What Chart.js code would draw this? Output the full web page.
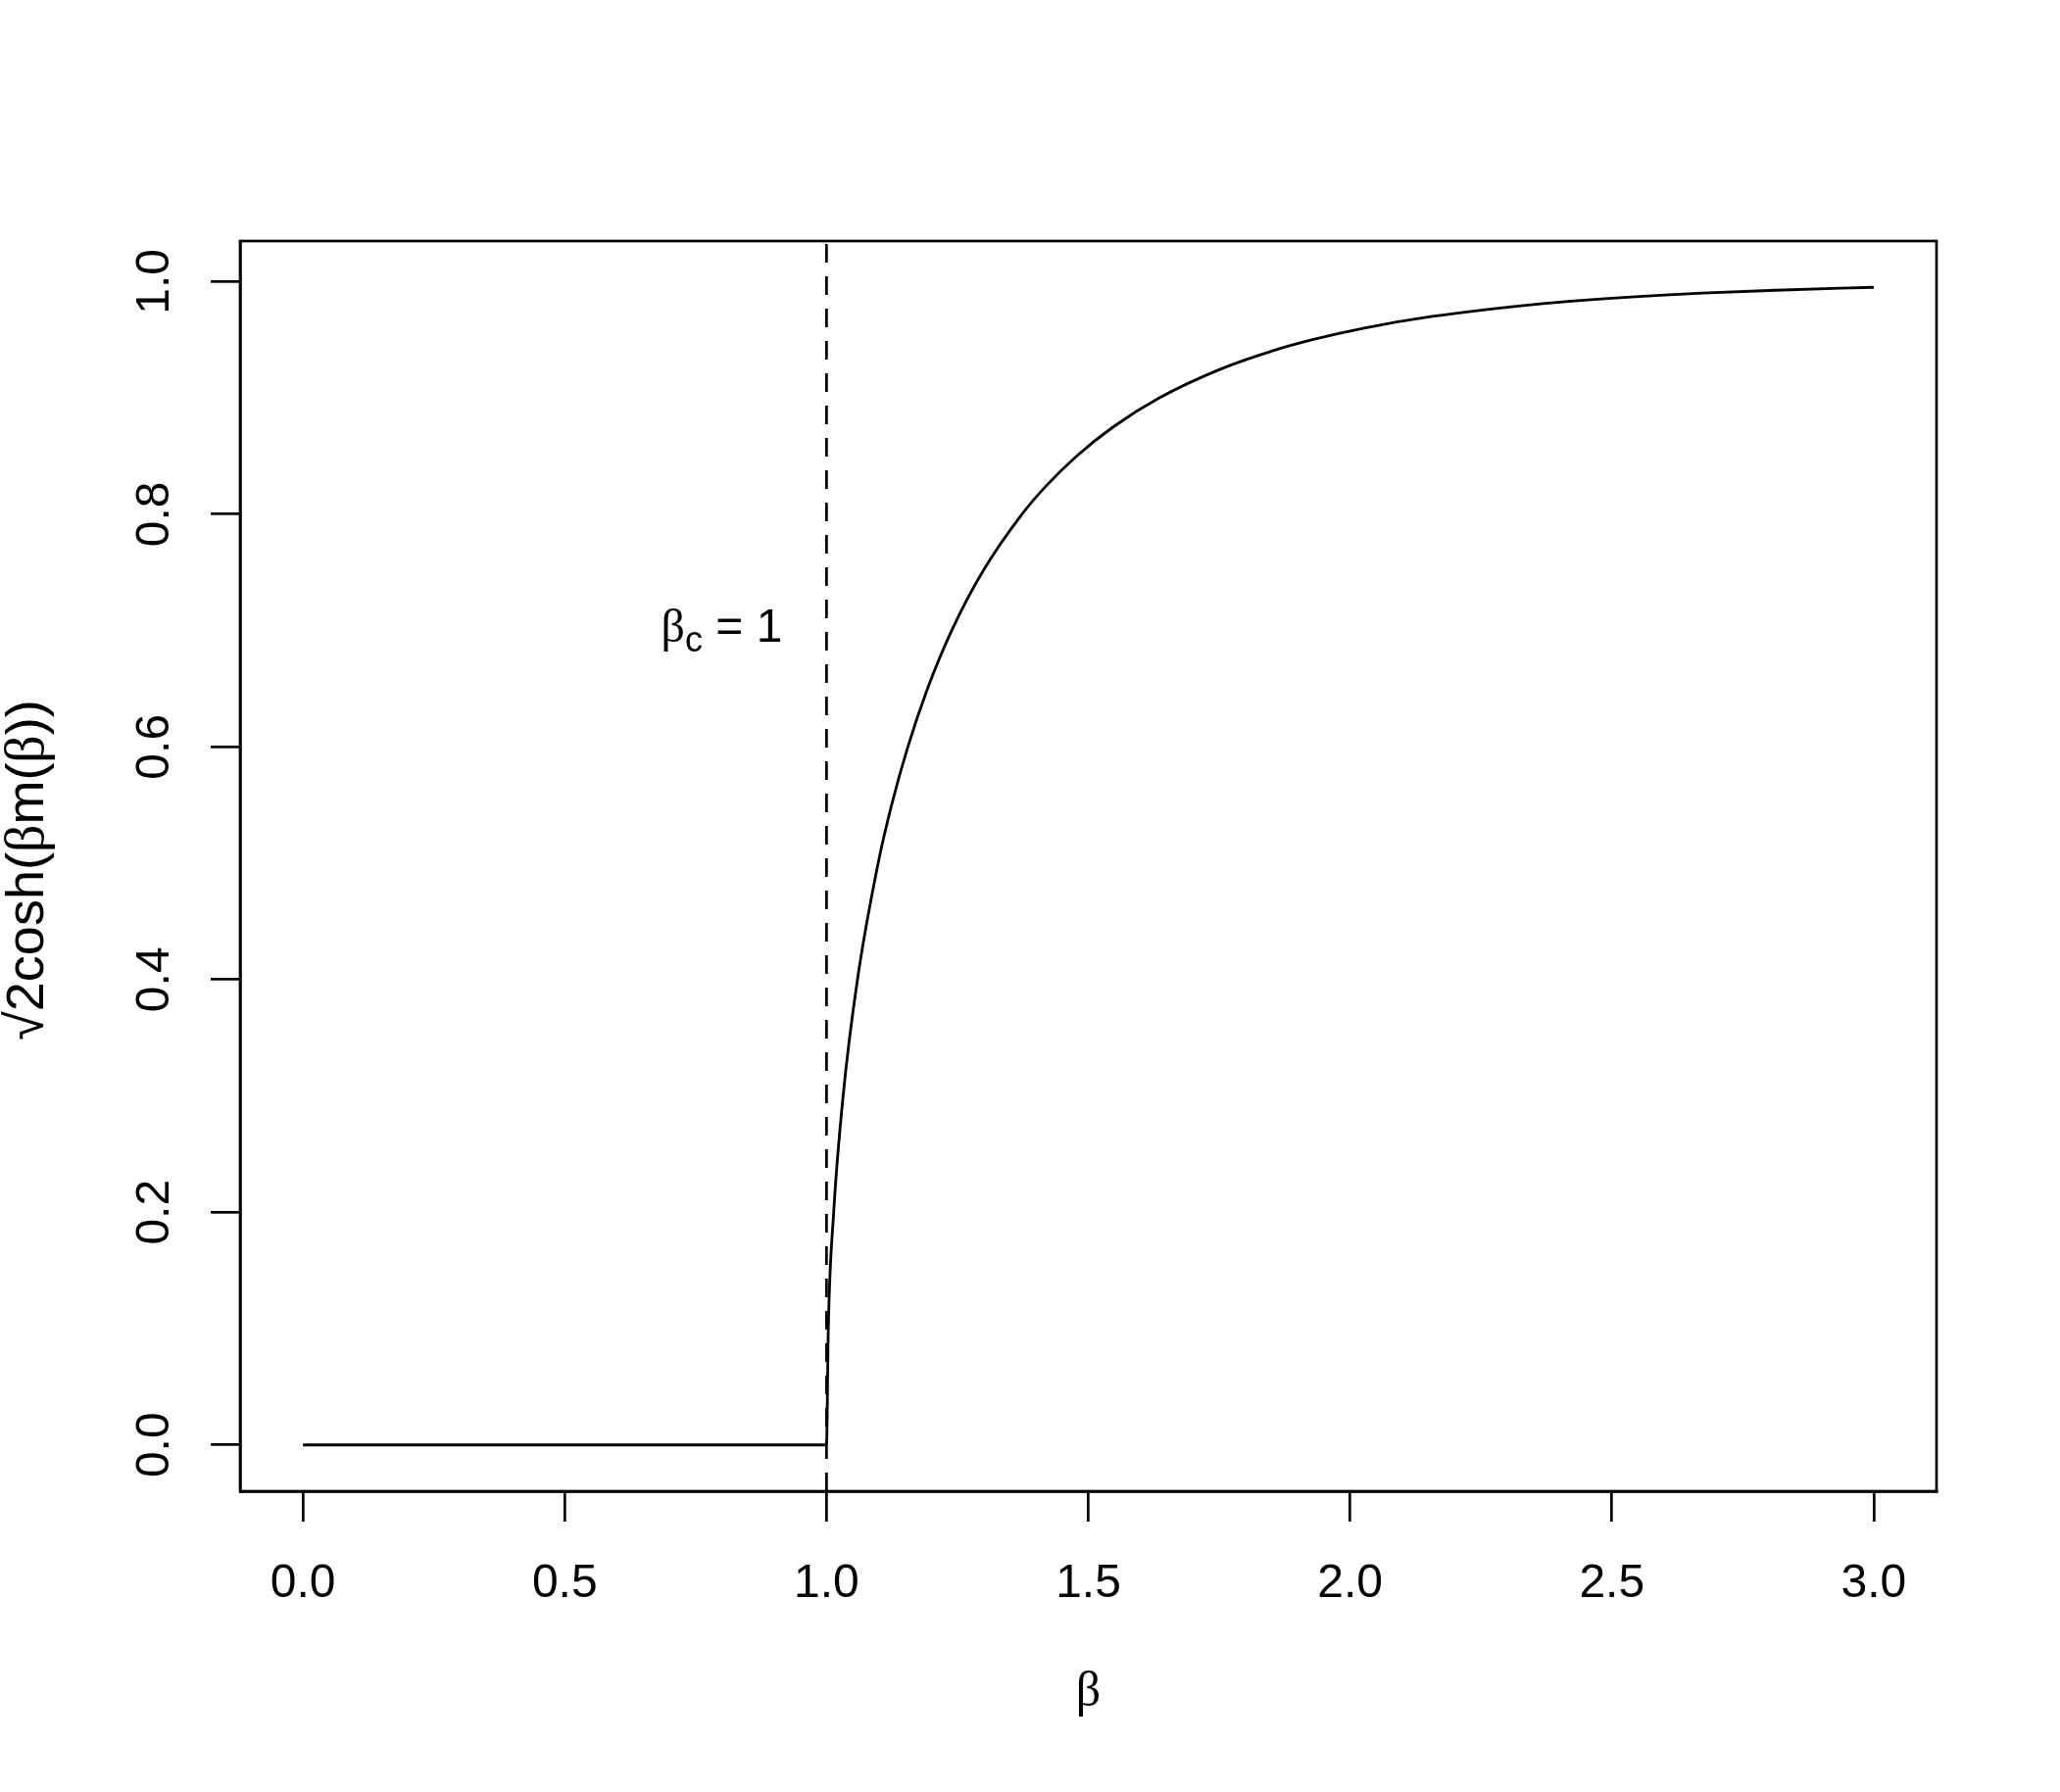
<!DOCTYPE html>
<html>
<head>
<meta charset="utf-8">
<title>m(beta)</title>
<script src="https://cdn.jsdelivr.net/npm/chart.js@4.4.1/dist/chart.umd.min.js"></script>
<style>
  body { margin: 0; background: #fff; }
  #plot { display: block; }
</style>
</head>
<body>
<canvas id="plot" width="2102" height="1829"></canvas>
<script>
// values
let betaVals = [0, 0.5, 1.0, 1.0034, 1.0137, 1.0317, 1.0591, 1.0986, 1.1243, 1.1553, 1.1928, 1.239, 1.2973,
    1.3733, 1.4209, 1.4778, 1.5475, 1.6358, 1.7542, 1.849, 1.9282, 2.027, 2.157, 2.3445, 2.4799, 2.6734, 2.8122, 3.0];
let curveVals = [0, 0, 0, 0.10, 0.20, 0.30, 0.40, 0.50, 0.55, 0.60, 0.65, 0.70, 0.75,
    0.80, 0.825, 0.85, 0.875, 0.90, 0.925, 0.94, 0.95, 0.96, 0.97, 0.98, 0.985, 0.99, 0.9925, 0.995];

let betaC = 1;
let xTicks = [0, 0.5, 1.0, 1.5, 2.0, 2.5, 3.0];
let yTicks = [0, 0.2, 0.4, 0.6, 0.8, 1.0];
let xRange = [-0.12, 3.12];
let yRange = [-0.0398, 1.0348];

let curvePts = [];
for (let i = 0; i < betaVals.length; i++) {
    curvePts.push({ x: betaVals[i], y: curveVals[i] });
}
let dashPts = [{ x: betaC, y: yRange[0] }, { x: betaC, y: yRange[1] }];

const sans = '"Liberation Sans", Arial, sans-serif';
const serif = '"Liberation Serif", "Times New Roman", serif';

// draw a row of text pieces with different fonts, centred on (x, y)
function drawPieces(ctx, pieces, x, y, angle) {
    ctx.save();
    ctx.translate(x, y);
    ctx.rotate(angle);
    ctx.textBaseline = "alphabetic";
    ctx.textAlign = "left";
    ctx.fillStyle = "#000";
    let total = 0;
    pieces.forEach(p => { ctx.font = p.font; total += ctx.measureText(p.t).width; });
    let pos = -total / 2;
    pieces.forEach(p => {
        ctx.font = p.font;
        ctx.fillText(p.t, pos, p.dy || 0);
        pos += ctx.measureText(p.t).width;
    });
    ctx.restore();
}

const rPlot = {
    id: "rPlot",
    afterDraw(chart) {
        const ctx = chart.ctx;
        const a = chart.chartArea;
        ctx.save();
        ctx.strokeStyle = "#000";
        ctx.lineWidth = 2.7;
        ctx.strokeRect(a.left, a.top, a.right - a.left, a.bottom - a.top);
        ctx.restore();

        // x title
        drawPieces(ctx, [{ t: "β", font: "50px " + serif }], (a.left + a.right) / 2, 1741, 0);

        // y title
        drawPieces(ctx, [
            { t: "√2cosh(", font: "54px " + sans },
            { t: "β", font: "56px " + serif },
            { t: "m(", font: "54px " + sans },
            { t: "β", font: "56px " + serif },
            { t: "))", font: "54px " + sans }
        ], 44, (a.top + a.bottom) / 2 + 4, -Math.PI / 2);

        // annotation at (0.8, 0.7)
        const xs = chart.scales.x, ys = chart.scales.y;
        drawPieces(ctx, [
            { t: "β", font: "48px " + serif },
            { t: "c", font: "36px " + sans, dy: 10 },
            { t: " = 1", font: "48px " + sans }
        ], xs.getPixelForValue(0.8), ys.getPixelForValue(0.7) + 11, 0);
    }
};

var ctx = document.getElementById("plot").getContext("2d");
var myChart = new Chart(ctx, {
    type: "line",
    data: {
        datasets: [{
            data: curvePts,
            borderColor: "#000",
            borderWidth: 2.8,
            pointRadius: 0,
            cubicInterpolationMode: "monotone",
            fill: false
        }, {
            data: dashPts,
            borderColor: "#000",
            borderWidth: 2.7,
            borderDash: [19, 14],
            pointRadius: 0,
            fill: false
        }]
    },
    options: {
        responsive: false,
        animation: false,
        devicePixelRatio: 1,
        layout: { padding: { top: 246, right: 126, left: 0, bottom: 0 } },
        plugins: { legend: { display: false }, tooltip: { enabled: false } },
        scales: {
            x: {
                type: "linear",
                min: xRange[0],
                max: xRange[1],
                afterBuildTicks: axis => { axis.ticks = xTicks.map(v => ({ value: v })); },
                afterFit: axis => { axis.height = 307; },
                grid: { drawOnChartArea: false, drawTicks: true, tickLength: 31, color: "#000", lineWidth: 2.7 },
                border: { display: true, color: "#000", width: 2.7 },
                ticks: {
                    color: "#000",
                    font: { family: sans, size: 48 },
                    padding: 35,
                    maxRotation: 0,
                    autoSkip: false,
                    callback: v => v.toFixed(1)
                }
            },
            y: {
                type: "linear",
                min: yRange[0],
                max: yRange[1],
                afterBuildTicks: axis => { axis.ticks = yTicks.map(v => ({ value: v })); },
                afterFit: axis => { axis.width = 245; },
                grid: { drawOnChartArea: false, drawTicks: true, tickLength: 30, color: "#000", lineWidth: 2.7 },
                border: { display: true, color: "#000", width: 2.7 },
                ticks: {
                    color: "#000",
                    font: { family: sans, size: 48 },
                    padding: 23,
                    minRotation: 90,
                    maxRotation: 90,
                    crossAlign: "center",
                    autoSkip: false,
                    callback: v => v.toFixed(1)
                }
            }
        }
    },
    plugins: [rPlot]
});
</script>
</body>
</html>
